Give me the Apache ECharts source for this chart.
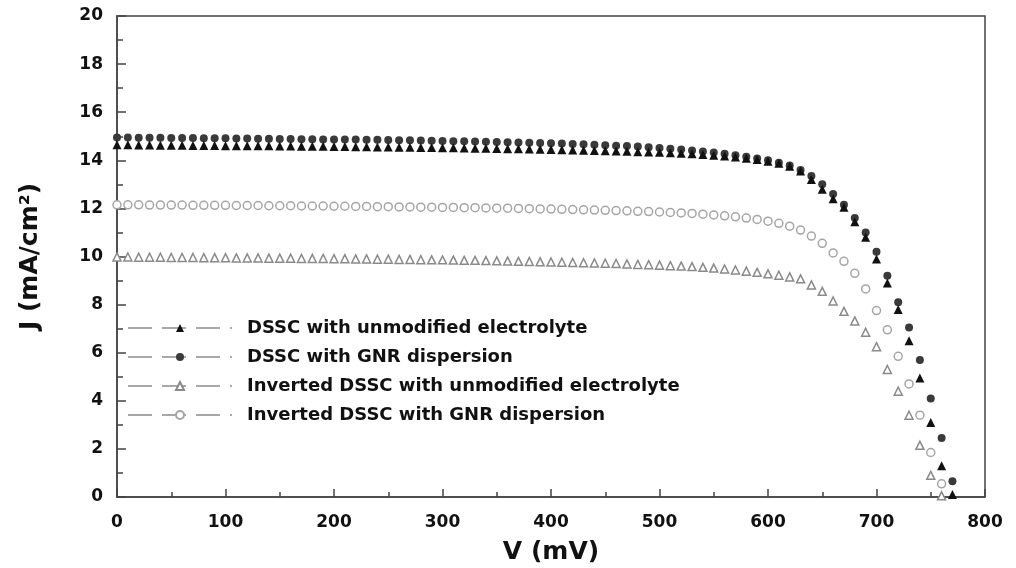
<!DOCTYPE html>
<html>
<head>
<meta charset="utf-8">
<script src="https://cdn.jsdelivr.net/npm/echarts@6/dist/echarts.min.js"></script>
<style>
html, body { margin: 0; padding: 0; background: #fff; }
#chart { width: 1016px; height: 568px; }
</style>
</head>
<body>
<div id="chart"></div>
<script>
// voltage grid (mV)
var voltage = [
  0, 10, 20, 30, 40, 50, 60, 70, 80, 90, 100,
  110, 120, 130, 140, 150, 160, 170, 180, 190, 200,
  210, 220, 230, 240, 250, 260, 270, 280, 290, 300,
  310, 320, 330, 340, 350, 360, 370, 380, 390, 400,
  410, 420, 430, 440, 450, 460, 470, 480, 490, 500,
  510, 520, 530, 540, 550, 560, 570, 580, 590, 600,
  610, 620, 630, 640, 650, 660, 670, 680, 690, 700,
  710, 720, 730, 740, 750, 760, 770
];

// current density (mA/cm2)
var dsscUnmod = [
  14.65, 14.65, 14.64, 14.64, 14.63, 14.63, 14.63, 14.62, 14.62, 14.62, 14.61,
  14.61, 14.60, 14.60, 14.60, 14.59, 14.59, 14.58, 14.58, 14.58, 14.57,
  14.57, 14.56, 14.56, 14.55, 14.55, 14.54, 14.54, 14.53, 14.53, 14.52,
  14.52, 14.51, 14.50, 14.50, 14.49, 14.48, 14.48, 14.47, 14.46, 14.45,
  14.44, 14.43, 14.42, 14.41, 14.40, 14.39, 14.38, 14.36, 14.35, 14.33,
  14.31, 14.29, 14.27, 14.24, 14.21, 14.18, 14.14, 14.09, 14.03, 13.96,
  13.88, 13.75, 13.55, 13.20, 12.80, 12.40, 12.05, 11.45, 10.80, 9.90,
  8.90, 7.80, 6.50, 4.95, 3.10, 1.30, 0.10
];
var dsscGnr = [
  14.95, 14.95, 14.94, 14.94, 14.94, 14.93, 14.93, 14.93, 14.92, 14.92, 14.92,
  14.91, 14.91, 14.90, 14.90, 14.89, 14.89, 14.88, 14.88, 14.87, 14.87,
  14.86, 14.86, 14.85, 14.85, 14.84, 14.83, 14.83, 14.82, 14.81, 14.80,
  14.79, 14.79, 14.78, 14.77, 14.76, 14.75, 14.74, 14.73, 14.72, 14.71,
  14.70, 14.68, 14.67, 14.65, 14.63, 14.61, 14.59, 14.57, 14.54, 14.51,
  14.48, 14.45, 14.41, 14.37, 14.32, 14.27, 14.21, 14.15, 14.08, 14.00,
  13.90, 13.78, 13.60, 13.35, 13.00, 12.60, 12.15, 11.60, 11.00, 10.20,
  9.20, 8.10, 7.05, 5.70, 4.10, 2.45, 0.65
];
var invUnmod = [
  9.98, 9.98, 9.97, 9.97, 9.97, 9.96, 9.96, 9.96, 9.95, 9.95, 9.95,
  9.94, 9.94, 9.94, 9.93, 9.93, 9.93, 9.92, 9.92, 9.92, 9.91,
  9.91, 9.90, 9.90, 9.89, 9.89, 9.88, 9.88, 9.87, 9.86, 9.86,
  9.85, 9.84, 9.84, 9.83, 9.82, 9.81, 9.80, 9.79, 9.78, 9.77,
  9.76, 9.75, 9.74, 9.73, 9.72, 9.71, 9.69, 9.67, 9.66, 9.64,
  9.62, 9.60, 9.58, 9.55, 9.52, 9.48, 9.44, 9.39, 9.34, 9.28,
  9.22, 9.15, 9.07, 8.82, 8.55, 8.15, 7.72, 7.32, 6.85, 6.25,
  5.30, 4.40, 3.40, 2.15, 0.90, 0.05
];
var invGnr = [
  12.15, 12.15, 12.15, 12.14, 12.14, 12.14, 12.14, 12.13, 12.13, 12.13, 12.13,
  12.12, 12.12, 12.12, 12.11, 12.11, 12.11, 12.10, 12.10, 12.10, 12.09,
  12.09, 12.08, 12.08, 12.07, 12.07, 12.06, 12.06, 12.05, 12.05, 12.04,
  12.04, 12.03, 12.03, 12.02, 12.01, 12.01, 12.00, 11.99, 11.98, 11.97,
  11.96, 11.95, 11.94, 11.93, 11.92, 11.91, 11.90, 11.88, 11.87, 11.85,
  11.83, 11.81, 11.79, 11.76, 11.73, 11.69, 11.65, 11.60, 11.54, 11.47,
  11.38, 11.26, 11.10, 10.85, 10.55, 10.15, 9.80, 9.30, 8.65, 7.75,
  6.95, 5.85, 4.70, 3.40, 1.85, 0.55
];

var seriesNames = [
  'DSSC with unmodified electrolyte',
  'DSSC with GNR dispersion',
  'Inverted DSSC with unmodified electrolyte',
  'Inverted DSSC with GNR dispersion'
];

function pairs(ys) {
  return ys.map(function (y, i) { return [voltage[i], y]; });
}

var font = 'DejaVu Sans';
var chart = echarts.init(document.getElementById('chart'));

var option = {
  animation: false,
  backgroundColor: '#fff',
  grid: {
    left: 117, right: 31, top: 16, bottom: 71,
    outerBoundsMode: 'none',
    show: true, borderColor: '#444', borderWidth: 1.5
  },
  legend: {
    orient: 'vertical',
    left: 122,
    top: 314,
    itemWidth: 104,
    itemHeight: 10,
    itemGap: 11,
    data: seriesNames,
    lineStyle: { type: [24, 10], width: 2, color: '#a8a8a8' },
    textStyle: {
      fontFamily: font, fontWeight: 'bold', fontSize: 18, color: '#111',
      padding: [0, 0, 0, 10]
    }
  },
  xAxis: {
    type: 'value',
    min: 0, max: 800, interval: 100,
    name: 'V (mV)',
    nameLocation: 'middle',
    nameGap: 43,
    nameTextStyle: { fontFamily: font, fontWeight: 'bold', fontSize: 25, color: '#111' },
    axisLine: { lineStyle: { color: '#444', width: 1.5 } },
    axisTick: { inside: true, length: 8, lineStyle: { color: '#444', width: 1.5 } },
    minorTick: { show: true, splitNumber: 2, length: 5, lineStyle: { color: '#444', width: 1.5 } },
    axisLabel: { margin: 17, fontFamily: font, fontWeight: 'bold', fontSize: 17, color: '#111' },
    splitLine: { show: false }
  },
  yAxis: {
    type: 'value',
    min: 0, max: 20, interval: 2,
    name: 'J (mA/cm²)',
    nameLocation: 'middle',
    nameGap: 74,
    nameTextStyle: { fontFamily: font, fontWeight: 'bold', fontSize: 25, color: '#111' },
    axisLine: { lineStyle: { color: '#444', width: 1.5 } },
    axisTick: { inside: true, length: 9, lineStyle: { color: '#444', width: 1.5 } },
    minorTick: { show: true, splitNumber: 2, length: 6, lineStyle: { color: '#444', width: 1.5 } },
    axisLabel: { margin: 14, fontFamily: font, fontWeight: 'bold', fontSize: 17, color: '#111' },
    splitLine: { show: false }
  },
  series: [
    {
      name: seriesNames[0], type: 'line',
      data: pairs(dsscUnmod),
      symbol: 'triangle', symbolSize: 9,
      itemStyle: { color: '#111' },
      lineStyle: { width: 0 },
      z: 4
    },
    {
      name: seriesNames[1], type: 'line',
      data: pairs(dsscGnr),
      symbol: 'circle', symbolSize: 8,
      itemStyle: { color: '#3a3a3a' },
      lineStyle: { width: 0 },
      z: 3
    },
    {
      name: seriesNames[2], type: 'line',
      data: pairs(invUnmod),
      symbol: 'triangle', symbolSize: 8,
      itemStyle: { color: '#fff', borderColor: '#8a8a8a', borderWidth: 1.5 },
      lineStyle: { width: 0, color: '#8a8a8a' },
      z: 2
    },
    {
      name: seriesNames[3], type: 'line',
      data: pairs(invGnr),
      symbol: 'circle', symbolSize: 8,
      itemStyle: { color: '#fff', borderColor: '#a5a5a5', borderWidth: 1.5 },
      lineStyle: { width: 0, color: '#a5a5a5' },
      z: 2
    }
  ]
};

chart.setOption(option);
</script>
</body>
</html>
